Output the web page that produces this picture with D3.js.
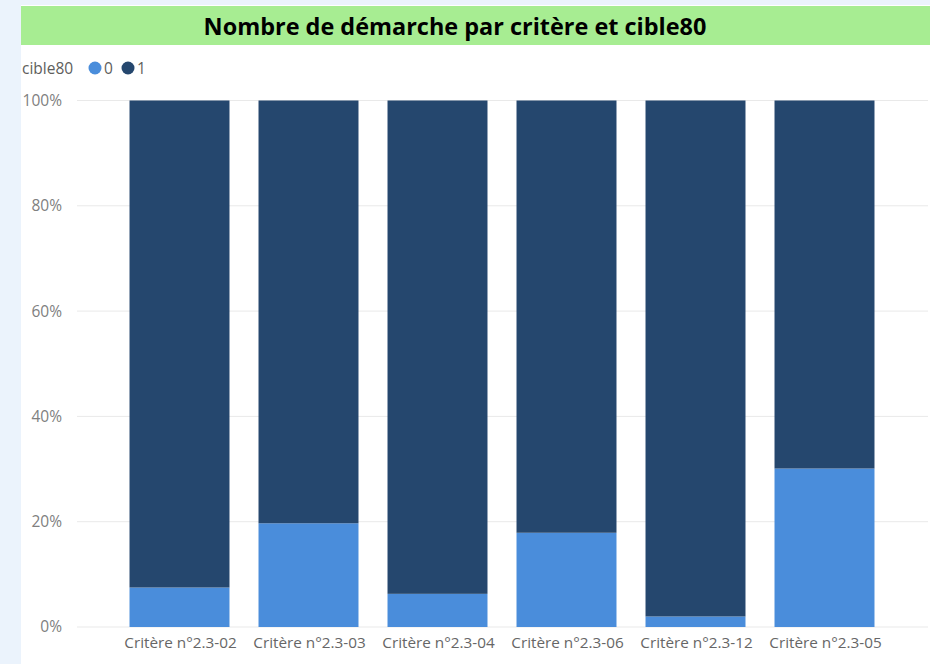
<!DOCTYPE html>
<html>
<head>
<meta charset="utf-8">
<script src="https://cdn.jsdelivr.net/npm/d3@7"></script>
<style>
  html, body { margin: 0; padding: 0; background: #ebf3fc; }
  svg { display: block; }
</style>
</head>
<body>
<svg id="chart" width="930" height="664"></svg>
<script>
const title = "Nombre de démarche par critère et cible80";
const legendTitle = "cible80";
const seriesKeys = ["0", "1"];
const categories = ["Critère n°2.3-02", "Critère n°2.3-03", "Critère n°2.3-04", "Critère n°2.3-06", "Critère n°2.3-12", "Critère n°2.3-05"];
const share0 = [0.075, 0.197, 0.063, 0.179, 0.020, 0.301];
const share1 = [0.925, 0.803, 0.937, 0.821, 0.980, 0.699];
const yTicks = [0, 0.2, 0.4, 0.6, 0.8, 1.0];
const colors = ["#4a8ddb", "#25476e"];

const font = "'Open Sans', 'Noto Sans', sans-serif";
const svg = d3.select("#chart");

// panel
svg.append("rect").attr("x", 21).attr("y", 5).attr("width", 909).attr("height", 659).attr("fill", "#ffffff");
svg.append("rect").attr("x", 21).attr("y", 6).attr("width", 909).attr("height", 39).attr("fill", "#a7ed92");

const t = svg.append("text")
  .attr("x", 455).attr("y", 26)
  .attr("text-anchor", "middle").attr("dominant-baseline", "central")
  .attr("font-family", font).attr("font-weight", 700)
  .attr("font-size", 22).attr("fill", "#000")
  .text(title);
const tw = t.node().getComputedTextLength();
t.attr("font-size", 22 * 503 / tw);

const data = categories.map((c, i) => ({ cat: c, "0": share0[i], "1": share1[i] }));
const stacked = d3.stack().keys(seriesKeys)(data);

const x = d3.scaleBand().domain(categories).range([115, 889]).paddingInner(0.225).paddingOuter(0.1125);
const y = d3.scaleLinear().domain([0, 1]).range([627, 100.5]);

// gridlines
svg.append("g").selectAll("line").data(yTicks).join("line")
  .attr("x1", 77).attr("x2", 928)
  .attr("y1", d => y(d)).attr("y2", d => y(d))
  .attr("stroke", "#e9e9e9").attr("stroke-width", 1);

// y axis labels
const yAxis = d3.axisLeft(y).tickValues(yTicks).tickFormat(d3.format(".0%")).tickSize(0).tickPadding(0);
const yg = svg.append("g").attr("transform", "translate(62,0)").call(yAxis);
yg.select(".domain").remove();
yg.selectAll("text").attr("font-family", font).attr("font-size", 15.5).attr("fill", "#808080");

// bars
svg.append("g").selectAll("g").data(stacked).join("g")
  .attr("fill", (d, i) => colors[i])
  .selectAll("rect").data(d => d).join("rect")
  .attr("x", d => x(d.data.cat))
  .attr("width", x.bandwidth())
  .attr("y", d => y(d[1]))
  .attr("height", d => y(d[0]) - y(d[1]));

// x axis labels
const xAxis = d3.axisBottom(x).tickSize(0).tickPadding(0);
const xg = svg.append("g").attr("transform", "translate(1,637)").call(xAxis);
xg.select(".domain").remove();
xg.selectAll("text").attr("font-family", font).attr("font-size", 15.3).attr("fill", "#666666").attr("dy", "0.71em");

// legend
const lg = svg.append("g");
lg.append("text").attr("x", 22).attr("y", 68).attr("dominant-baseline", "central")
  .attr("font-family", font).attr("font-size", 15.5).attr("fill", "#605e5c").text(legendTitle);
const lx = [95, 128];
seriesKeys.forEach((k, i) => {
  lg.append("circle").attr("cx", lx[i]).attr("cy", 68).attr("r", 6.5).attr("fill", colors[i]);
  lg.append("text").attr("x", lx[i] + 9).attr("y", 68).attr("dominant-baseline", "central")
    .attr("font-family", font).attr("font-size", 15.5).attr("fill", "#605e5c").text(k);
});
</script>
</body>
</html>
